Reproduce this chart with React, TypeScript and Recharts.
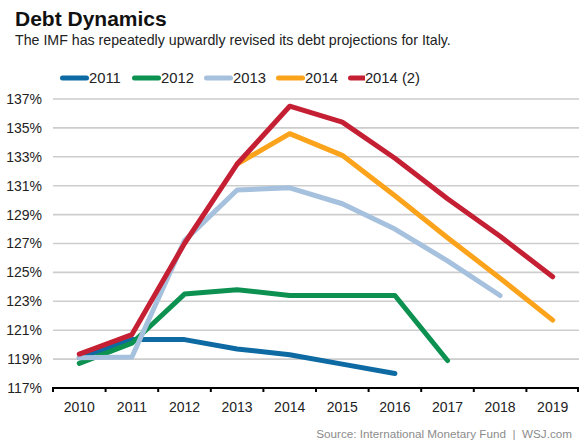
import React from "react";
import { LineChart, Line, XAxis, YAxis, CartesianGrid, Legend } from "recharts";

const years = ["2010", "2011", "2012", "2013", "2014", "2015", "2016", "2017", "2018", "2019"];
const s2011 = [119.1, 120.35, 120.35, 119.7, 119.3, 118.65, 118.0, null, null, null];
const s2012 = [118.7, 120.1, 123.5, 123.8, 123.4, 123.4, 123.4, 118.9, null, null];
const s2013 = [119.1, 119.15, 127.2, 130.7, 130.85, 129.75, 128.0, 125.8, 123.4, null];
const s2014 = [null, null, null, 132.5, 134.6, 133.1, 130.3, 127.4, 124.6, 121.7];
const s2014b = [119.35, 120.7, 127.0, 132.5, 136.5, 135.4, 132.9, 130.1, 127.5, 124.7];
const yTicks = [117, 119, 121, 123, 125, 127, 129, 131, 133, 135, 137];

const seriesNames = ["2011", "2012", "2013", "2014", "2014 (2)"];
const seriesColors = ["#0d6aa3", "#0c9150", "#a6c1dd", "#fca31c", "#c51f33"];
const seriesValues = [s2011, s2012, s2013, s2014, s2014b];

const data = years.map((y, i) => {
  const row: Record<string, any> = { year: y };
  seriesNames.forEach((n, k) => {
    row[n] = seriesValues[k][i];
  });
  return row;
});

const CHART_W = 581;
const CHART_H = 444;
const MARGIN = { top: 99, right: 2, bottom: 26, left: 0 };
const Y_W = 53;
const BAND = (CHART_W - MARGIN.left - MARGIN.right - Y_W) / years.length;
const FONT = "'Liberation Sans', Arial, sans-serif";

const XTick = (props: any) => {
  const { x, y, payload, index } = props;
  const axisY = y - 14;
  const left = x - BAND / 2;
  const right = x + BAND / 2;
  return (
    <g>
      <line x1={left} y1={axisY - 1} x2={left} y2={axisY + 4} stroke="#000" strokeWidth={2} />
      {index === years.length - 1 && (
        <line x1={right - 1} y1={axisY - 1} x2={right - 1} y2={axisY + 4} stroke="#000" strokeWidth={2} />
      )}
      <text x={x} y={y} dy="0.71em" textAnchor="middle" fontSize={14} fill="#222" fontFamily={FONT}>
        {payload.value}
      </text>
    </g>
  );
};

const LegendContent = (props: any) => {
  const { payload } = props;
  return (
    <div style={{ display: "flex", paddingLeft: 60, fontFamily: FONT }}>
      {(payload || []).map((p: any) => (
        <div key={p.value} style={{ display: "flex", alignItems: "center", width: 72 }}>
          <svg width={29} height={10} style={{ display: "block" }}>
            <line x1={2.5} y1={5} x2={26.5} y2={5} stroke={p.color} strokeWidth={5} strokeLinecap="round" />
          </svg>
          <span style={{ fontSize: 14.8, color: "#222", lineHeight: "16px", whiteSpace: "nowrap" }}>{p.value}</span>
        </div>
      ))}
    </div>
  );
};

export default function App() {
  return (
    <div
      style={{
        position: "absolute",
        left: 0,
        top: 0,
        width: CHART_W,
        height: CHART_H,
        background: "#fff",
        fontFamily: FONT,
        overflow: "hidden",
      }}
    >
      <div
        style={{
          position: "absolute",
          left: 15,
          top: 7.5,
          fontSize: 21,
          lineHeight: "21px",
          fontWeight: "bold",
          color: "#111",
          whiteSpace: "nowrap",
        }}
      >
        Debt Dynamics
      </div>
      <div
        style={{
          position: "absolute",
          left: 15,
          top: 33,
          fontSize: 14.2,
          lineHeight: "14.2px",
          color: "#222",
          whiteSpace: "nowrap",
        }}
      >
        The IMF has repeatedly upwardly revised its debt projections for Italy.
      </div>
      <div style={{ position: "absolute", left: 0, top: 0 }}>
        <LineChart width={CHART_W} height={CHART_H} data={data} margin={MARGIN}>
          <CartesianGrid vertical={false} stroke="#cdcdcd" strokeWidth={1.6} />
          <XAxis
            dataKey="year"
            tick={<XTick />}
            tickLine={false}
            tickSize={0}
            tickMargin={14}
            axisLine={{ stroke: "#000", strokeWidth: 2 }}
            interval={0}
            height={30}
            padding={{ left: BAND / 2, right: BAND / 2 }}
          />
          <YAxis
            domain={[117, 137]}
            ticks={yTicks}
            width={Y_W}
            tickSize={0}
            tickMargin={11}
            axisLine={false}
            tickLine={false}
            tickFormatter={(v: number) => `${v}%`}
            tick={{ fontSize: 14, fill: "#222", fontFamily: FONT }}
            allowDataOverflow
          />
          <Legend
            content={<LegendContent />}
            layout="horizontal"
            verticalAlign="middle"
            align="center"
            wrapperStyle={{ top: 70, left: 0, width: CHART_W, height: 18 }}
          />
          {seriesNames.map((n, k) => (
            <Line
              key={n}
              dataKey={n}
              name={n}
              stroke={seriesColors[k]}
              strokeWidth={5}
              dot={false}
              activeDot={false}
              strokeLinecap="round"
              strokeLinejoin="round"
              isAnimationActive={false}
              legendType="line"
            />
          ))}
        </LineChart>
      </div>
      <div
        style={{
          position: "absolute",
          right: 9,
          top: 428,
          fontSize: 11.7,
          lineHeight: "12px",
          color: "#8c8c8c",
          whiteSpace: "nowrap",
        }}
      >
        Source: International Monetary Fund &nbsp;|&nbsp; WSJ.com
      </div>
    </div>
  );
}
